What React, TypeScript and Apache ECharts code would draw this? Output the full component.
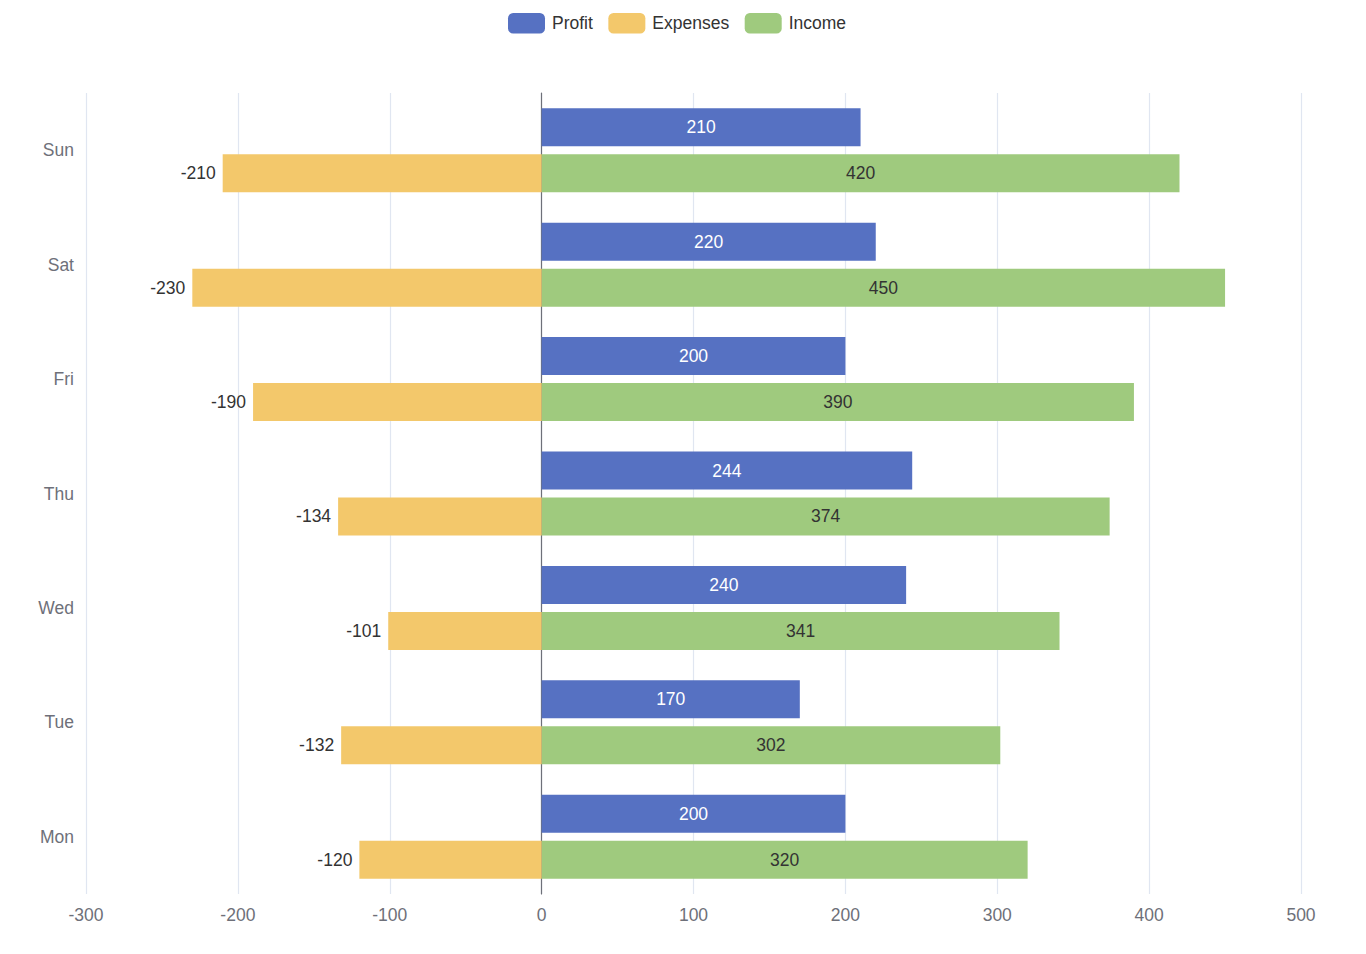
import React, { useEffect, useRef } from "react";
import * as echarts from "echarts";

const categories = ["Mon", "Tue", "Wed", "Thu", "Fri", "Sat", "Sun"];
const profit = [200, 170, 240, 244, 200, 220, 210];
const income = [320, 302, 341, 374, 390, 450, 420];
const expenses = [-120, -132, -101, -134, -190, -230, -210];
const legendNames = ["Profit", "Expenses", "Income"];

const FS = 17.5;
const FONT = "Liberation Sans, Arial, Helvetica, sans-serif";

export default function App() {
  const ref = useRef<HTMLDivElement>(null);
  useEffect(() => {
    if (!ref.current) return;
    const chart = echarts.init(ref.current, null, { renderer: "svg" });
    chart.setOption({
      animation: false,
      textStyle: { fontFamily: FONT },
      legend: {
        data: legendNames,
        top: 8,
        left: 503,
        itemWidth: 37,
        itemHeight: 20.5,
        itemGap: 15.5,
        textStyle: { fontSize: FS, color: "#333", fontFamily: FONT, padding: [0, 0, 0, 2] },
        itemStyle: { borderRadius: 4 },
      },
      grid: { left: 86, right: 65, top: 93, bottom: 60, containLabel: false },
      xAxis: {
        type: "value",
        min: -300,
        max: 500,
        interval: 100,
        axisLabel: { fontSize: FS, color: "#6e7079", margin: 12, fontFamily: FONT },
        splitLine: { lineStyle: { color: "#e0e6f1", width: 1.2 } },
      },
      yAxis: {
        type: "category",
        data: categories,
        axisTick: { show: false },
        axisLine: { lineStyle: { color: "#6e7079", width: 1.2 } },
        axisLabel: { fontSize: FS, color: "#6e7079", margin: 12, fontFamily: FONT },
      },
      series: [
        {
          name: "Profit",
          type: "bar",
          barWidth: 38,
          barGap: "21%",
          label: { show: true, position: "inside", color: "#fff", fontSize: FS, fontFamily: FONT },
          itemStyle: { color: "#5671c2" },
          data: profit,
        },
        {
          name: "Income",
          type: "bar",
          stack: "Total",
          barWidth: 38,
          label: { show: true, position: "inside", color: "#333", fontSize: FS, fontFamily: FONT },
          itemStyle: { color: "#9fca7e" },
          data: income,
        },
        {
          name: "Expenses",
          type: "bar",
          stack: "Total",
          barWidth: 38,
          label: { show: true, position: "left", color: "#333", fontSize: FS, distance: 7, fontFamily: FONT },
          itemStyle: { color: "#f3c86b" },
          data: expenses,
        },
      ],
    });
    return () => chart.dispose();
  }, []);
  return (
    <div
      ref={ref}
      style={{ position: "fixed", left: 0, top: 0, width: 1366, height: 954, background: "#fff" }}
    />
  );
}
